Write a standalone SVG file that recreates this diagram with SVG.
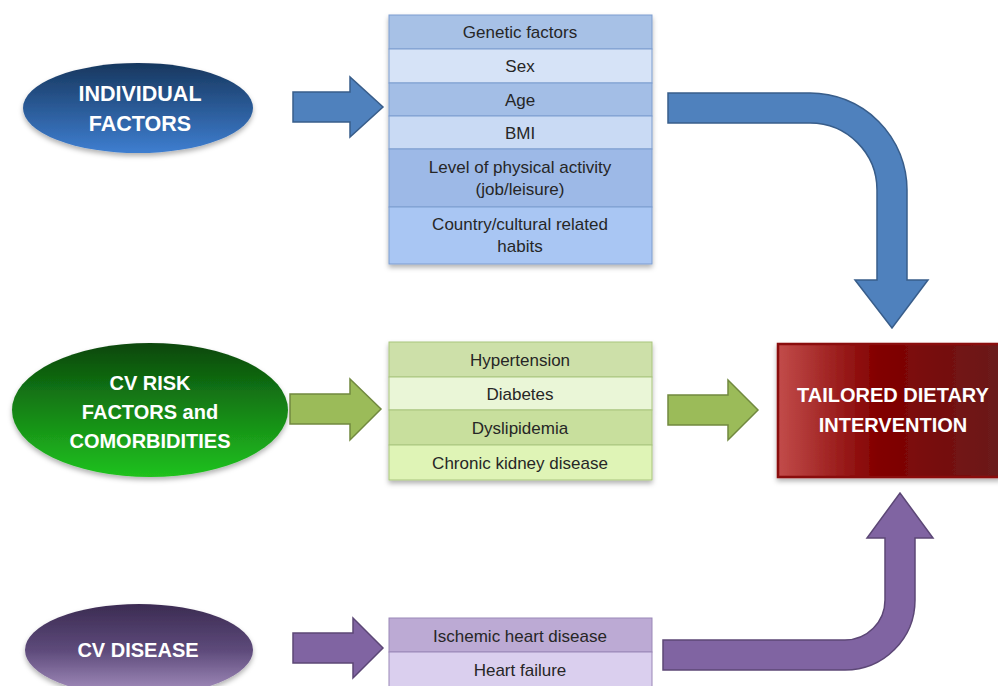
<svg xmlns="http://www.w3.org/2000/svg" width="998" height="686" viewBox="0 0 998 686">
<defs>
<linearGradient id="gBlue" x1="0" y1="0" x2="0" y2="1"><stop offset="0" stop-color="#17375e"/><stop offset="1" stop-color="#3e7ed0"/></linearGradient>
<linearGradient id="gGreen" x1="0" y1="0" x2="0" y2="1"><stop offset="0" stop-color="#0a470c"/><stop offset="1" stop-color="#20c21f"/></linearGradient>
<linearGradient id="gPurple" x1="0" y1="0" x2="0" y2="1"><stop offset="0" stop-color="#3b2b52"/><stop offset="0.5" stop-color="#5d4a7a"/><stop offset="1" stop-color="#a892c2"/></linearGradient>
<linearGradient id="gRed" x1="0" y1="0" x2="1" y2="0"><stop offset="0" stop-color="#c24c4a"/><stop offset="0.45" stop-color="#820000"/><stop offset="1" stop-color="#6a1c1c"/></linearGradient>
<filter id="sh" x="-10%" y="-10%" width="120%" height="130%"><feDropShadow dx="0" dy="3" stdDeviation="2.5" flood-color="#000" flood-opacity="0.3"/></filter>
</defs>
<style>
.et{font-family:"Liberation Sans",Arial,sans-serif;font-weight:bold;font-size:20px;fill:#fff;text-anchor:middle}
.big{font-size:21.5px}
.tt{font-family:"Liberation Sans",Arial,sans-serif;font-size:17px;fill:#262626;text-anchor:middle}
.rb{stroke:#7d9dcf;stroke-width:1}
.rg{stroke:#a9c57f;stroke-width:1}
.rp{stroke:#9a87b7;stroke-width:1}
.ab{fill:#4f81bd;stroke:#385d8a;stroke-width:1.5}
.ag{fill:#9bbb59;stroke:#71893f;stroke-width:1.5}
.ap{fill:#8064a2;stroke:#5c4776;stroke-width:1.5}
</style>
<rect width="998" height="686" fill="#fff"/>

<g id="individual-factors">
<ellipse cx="138" cy="108" rx="115" ry="45" fill="url(#gBlue)" filter="url(#sh)"/>
<text class="et big" x="140" y="101">INDIVIDUAL</text>
<text class="et big" x="140" y="131">FACTORS</text>
</g>

<g id="cv-risk-factors">
<ellipse cx="150" cy="410" rx="138" ry="67" fill="url(#gGreen)" filter="url(#sh)"/>
<text class="et" x="150" y="390">CV RISK</text>
<text class="et" x="150" y="419">FACTORS and</text>
<text class="et" x="150" y="448">COMORBIDITIES</text>
</g>

<g id="cv-disease">
<ellipse cx="139" cy="650" rx="114" ry="46" fill="url(#gPurple)" filter="url(#sh)"/>
<text class="et" x="138" y="657">CV DISEASE</text>
</g>

<g id="individual-list" filter="url(#sh)">
<rect class="rb" x="389" y="15" width="263" height="34" fill="#a7c1e6"/>
<rect class="rb" x="389" y="49" width="263" height="34" fill="#d6e3f7"/>
<rect class="rb" x="389" y="83" width="263" height="33" fill="#a3bee6"/>
<rect class="rb" x="389" y="116" width="263" height="33" fill="#c9daf4"/>
<rect class="rb" x="389" y="149" width="263" height="58" fill="#9db9e7"/>
<rect class="rb" x="389" y="207" width="263" height="57" fill="#a9c6f3"/>
</g>
<g id="individual-list-text">
<text class="tt" x="520" y="38">Genetic factors</text>
<text class="tt" x="520" y="72">Sex</text>
<text class="tt" x="520" y="106">Age</text>
<text class="tt" x="520" y="139">BMI</text>
<text class="tt" x="520" y="173">Level of physical activity</text>
<text class="tt" x="520" y="195">(job/leisure)</text>
<text class="tt" x="520" y="230">Country/cultural related</text>
<text class="tt" x="520" y="252">habits</text>
</g>

<g id="risk-list" filter="url(#sh)">
<rect class="rg" x="389" y="342" width="263" height="35" fill="#cde0a9"/>
<rect class="rg" x="389" y="377" width="263" height="33" fill="#eaf6d7"/>
<rect class="rg" x="389" y="410" width="263" height="35" fill="#c8df9d"/>
<rect class="rg" x="389" y="445" width="263" height="35" fill="#dff4b6"/>
</g>
<g id="risk-list-text">
<text class="tt" x="520" y="366">Hypertension</text>
<text class="tt" x="520" y="400">Diabetes</text>
<text class="tt" x="520" y="434">Dyslipidemia</text>
<text class="tt" x="520" y="469">Chronic kidney disease</text>
</g>

<g id="disease-list">
<rect class="rp" x="389" y="618" width="263" height="34" fill="#bcaad4"/>
<rect class="rp" x="389" y="652" width="263" height="40" fill="#dacfee"/>
<text class="tt" x="520" y="642">Ischemic heart disease</text>
<text class="tt" x="520" y="676">Heart failure</text>
</g>

<g id="tailored-dietary-intervention">
<rect x="778" y="344" width="222" height="133" fill="url(#gRed)" stroke="#8a0a0a" stroke-width="2.5" filter="url(#sh)"/>
<text class="et" x="893" y="402">TAILORED DIETARY</text>
<text class="et" x="893" y="432">INTERVENTION</text>
</g>

<g id="connectors">
<path class="ab" d="M293,92 L350,92 L350,77 L383,107 L350,137 L350,122 L293,122 Z"/>
<path class="ab" d="M668,93 L810,93 A97,97 0 0 1 907,190 L907,280 L928,280 L892,328 L855,280 L877,280 L877,190 A67,67 0 0 0 810,123 L668,123 Z"/>
<path class="ag" d="M290,394 L350,394 L350,379 L381,409 L350,440 L350,424 L290,424 Z"/>
<path class="ag" d="M668,395 L728,395 L728,380 L758,410 L728,440 L728,425 L668,425 Z"/>
<path class="ap" d="M293,633 L353,633 L353,618 L383,648 L353,678 L353,663 L293,663 Z"/>
<path class="ap" d="M663,640 L845,640 A40,40 0 0 0 885,600 L885,538 L867,538 L900,493 L933,538 L915,538 L915,600 A70,70 0 0 1 845,670 L663,670 Z"/>
</g>
</svg>
